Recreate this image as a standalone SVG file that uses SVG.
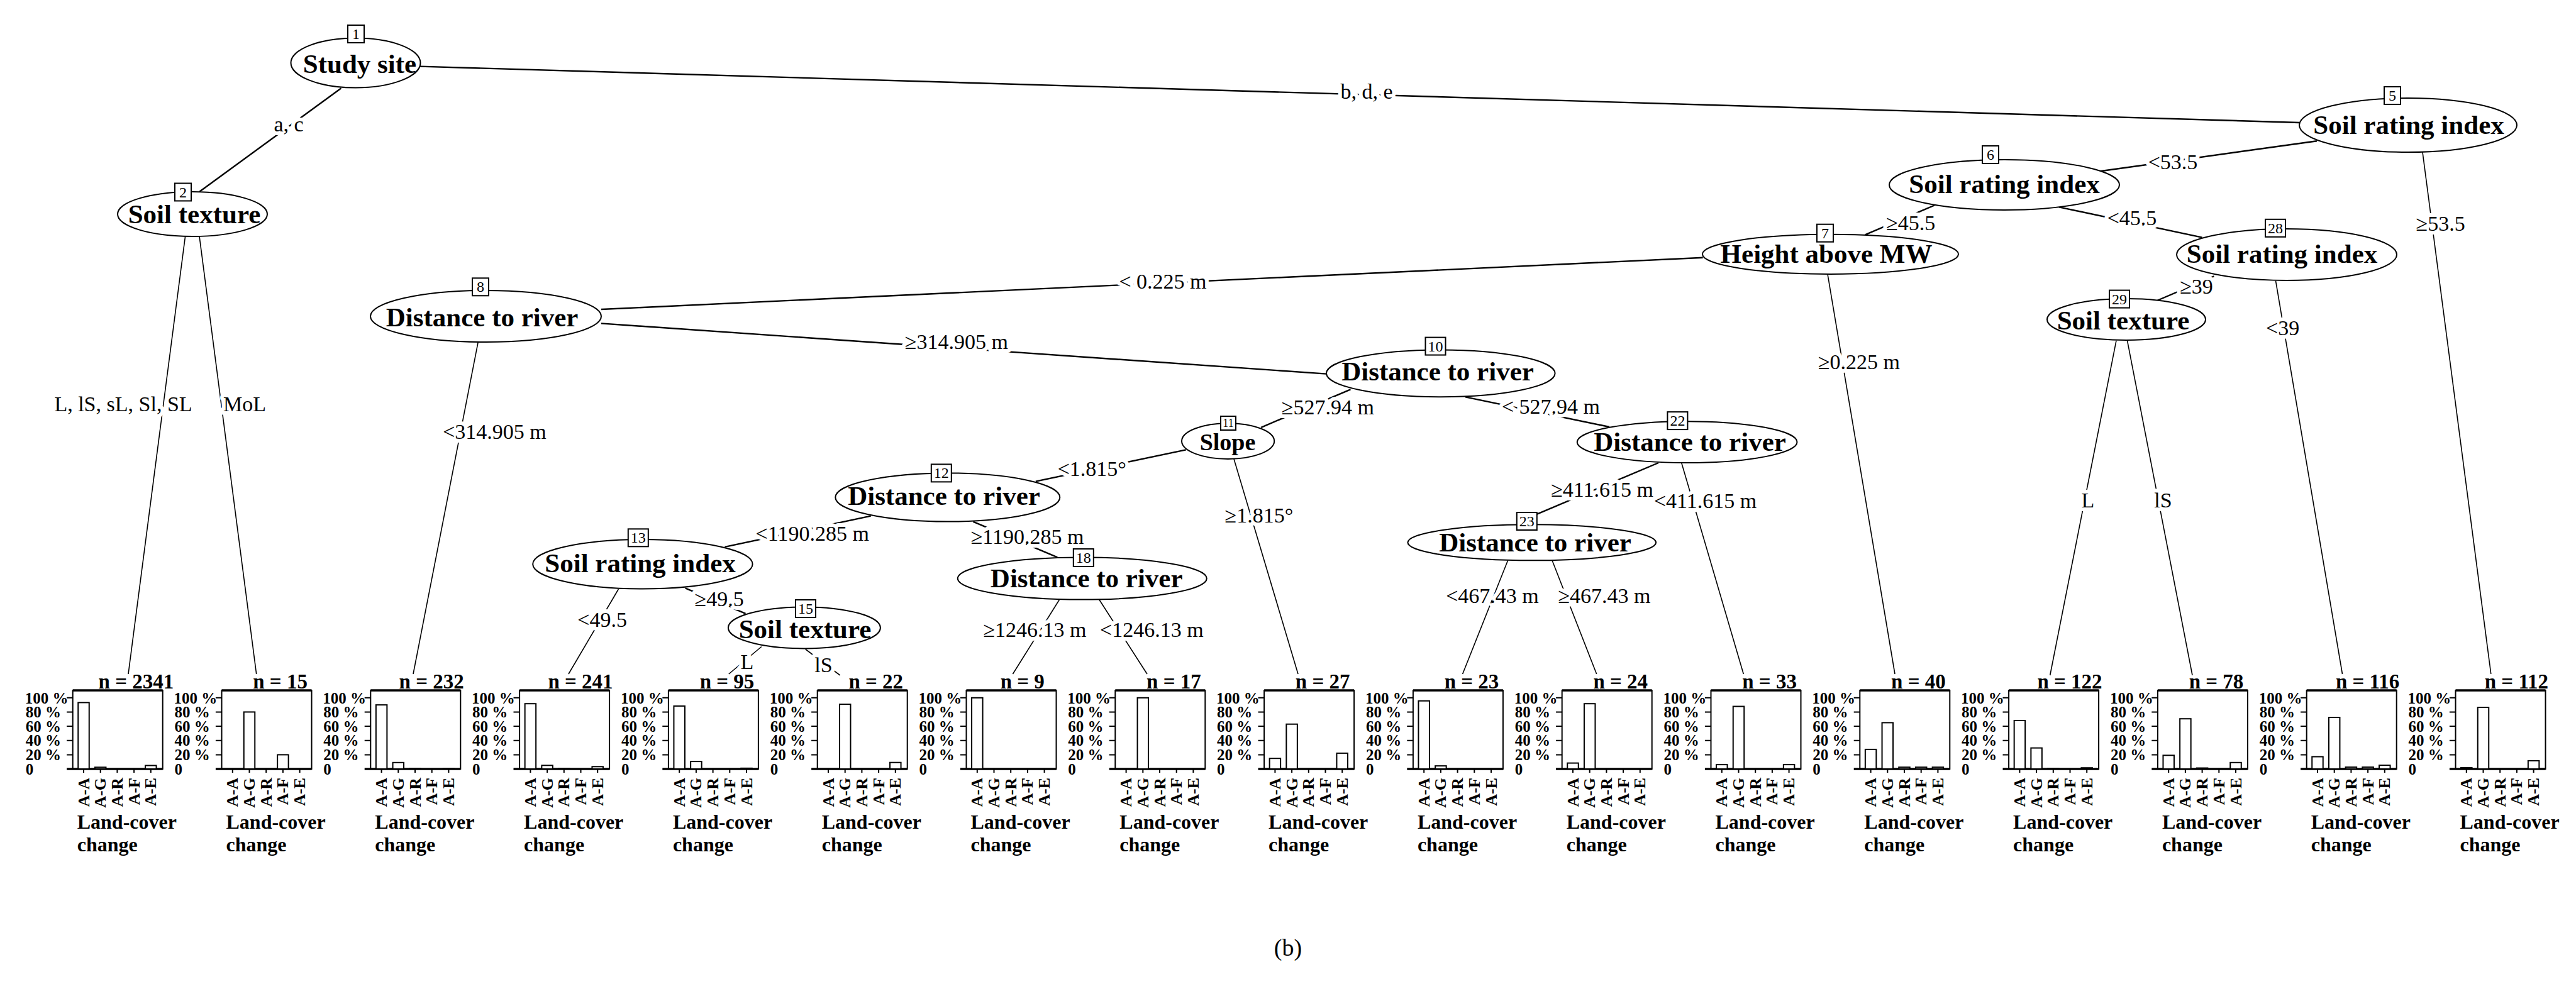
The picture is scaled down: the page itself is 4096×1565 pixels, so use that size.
<svg xmlns="http://www.w3.org/2000/svg" width="4096" height="1565" viewBox="0 0 4096 1565">
<style>
text{font-family:"Liberation Serif","Times New Roman",serif;fill:#000}
.ell{fill:#fff;stroke:#000;stroke-width:2}
.idb{fill:#fff;stroke:#000;stroke-width:2}
.idt{font-size:24px;text-anchor:middle}
.nl{font-size:43px;font-weight:bold;text-anchor:middle}
.e{stroke:#000;fill:none;stroke-width:2.4}
.et{stroke:#000;fill:none;stroke-width:1.6}
.el{font-size:34px;text-anchor:middle;paint-order:stroke;stroke:#fff;stroke-width:12px;stroke-linejoin:round}
.bx{fill:#fff;stroke:#000;stroke-width:2}
.thk{stroke:#000;stroke-width:3.5;fill:none}
.tkl{stroke:#000;stroke-width:2;fill:none}
.tk{font-size:25px;font-weight:bold}
.rl{font-size:26px;font-weight:bold;text-anchor:end}
.lc{font-size:32px;font-weight:bold}
.nn{font-size:33px;font-weight:bold;text-anchor:middle}
.bar{fill:#fff;stroke:#000;stroke-width:2}
</style>
<rect width="4096" height="1565" fill="#fff"/>

<g id="connectors">
<line class="e" x1="542.5" y1="140.3" x2="317" y2="305"/>
<line class="e" x1="668" y1="105.6" x2="3656" y2="195"/>
<line class="et" x1="294.6" y1="375.6" x2="204" y2="1072"/>
<line class="et" x1="317" y1="375.6" x2="407.7" y2="1072"/>
<line class="e" x1="3684" y1="224.2" x2="3339.5" y2="272.3"/>
<line class="et" x1="3852" y1="241.8" x2="3960.8" y2="1072"/>
<line class="e" x1="3076" y1="326.5" x2="2965.7" y2="373.4"/>
<line class="e" x1="3274" y1="329.4" x2="3501.5" y2="377.6"/>
<line class="e" x1="2707.7" y1="409.8" x2="956" y2="492"/>
<line class="et" x1="2906" y1="435.9" x2="3013" y2="1072"/>
<line class="et" x1="760.2" y1="544.1" x2="657" y2="1072"/>
<line class="e" x1="956" y1="514.4" x2="2109" y2="594.6"/>
<line class="e" x1="2147.5" y1="619.3" x2="2005.2" y2="679.8"/>
<line class="e" x1="2330" y1="631.3" x2="2559" y2="679"/>
<line class="e" x1="1885.8" y1="715.4" x2="1646.9" y2="765.6"/>
<line class="et" x1="1962" y1="730" x2="2064" y2="1072"/>
<line class="e" x1="1384.6" y1="820.6" x2="1152.4" y2="869.9"/>
<line class="e" x1="1547.3" y1="829.7" x2="1681.3" y2="886.3"/>
<line class="et" x1="983.4" y1="937" x2="904" y2="1072"/>
<line class="e" x1="1089.6" y1="935.3" x2="1185.5" y2="975.8"/>
<line class="et" x1="1210.8" y1="1028.5" x2="1158.8" y2="1072"/>
<line class="et" x1="1280.7" y1="1032.5" x2="1335.7" y2="1074"/>
<line class="et" x1="1684.6" y1="953.5" x2="1610.4" y2="1072"/>
<line class="et" x1="1747.7" y1="953.5" x2="1824" y2="1072"/>
<line class="e" x1="2637.2" y1="736" x2="2439.4" y2="819.6"/>
<line class="et" x1="2673.7" y1="736" x2="2772.3" y2="1072"/>
<line class="et" x1="2397.6" y1="891.3" x2="2325.6" y2="1072"/>
<line class="et" x1="2468" y1="891.3" x2="2538.7" y2="1072"/>
<line class="e" x1="3520.4" y1="439.3" x2="3430" y2="478"/>
<line class="et" x1="3618.5" y1="446.7" x2="3724.5" y2="1072"/>
<line class="et" x1="3365" y1="541.6" x2="3259.7" y2="1074"/>
<line class="et" x1="3382.5" y1="541.6" x2="3486" y2="1074"/>

<text class="el" x="459" y="209">a, c</text>
<text class="el" x="2173" y="157">b, d, e</text>
<text class="el" x="196" y="654">L, lS, sL, Sl, SL</text>
<text class="el" x="389" y="654">MoL</text>
<text class="el" x="3455" y="269">&lt;53.5</text>
<text class="el" x="3880.6" y="367">≥53.5</text>
<text class="el" x="3038.3" y="366">≥45.5</text>
<text class="el" x="3390" y="358">&lt;45.5</text>
<text class="el" x="1849" y="459">&lt; 0.225 m</text>
<text class="el" x="2956" y="586.5">≥0.225 m</text>
<text class="el" x="786.5" y="698">&lt;314.905 m</text>
<text class="el" x="1520.8" y="554.6">≥314.905 m</text>
<text class="el" x="2111.4" y="659">≥527.94 m</text>
<text class="el" x="2466" y="658">&lt; 527.94 m</text>
<text class="el" x="1736.3" y="756.5">&lt;1.815°</text>
<text class="el" x="2001.9" y="830.7">≥1.815°</text>
<text class="el" x="1291.7" y="859.6">&lt;1190.285 m</text>
<text class="el" x="1633.6" y="864.8">≥1190.285 m</text>
<text class="el" x="957.7" y="997.2">&lt;49.5</text>
<text class="el" x="1143.6" y="963.7">≥49.5</text>
<text class="el" x="1187.8" y="1064.3">L</text>
<text class="el" x="1309.4" y="1068.9">lS</text>
<text class="el" x="1645.5" y="1013.4">≥1246.13 m</text>
<text class="el" x="1831.4" y="1013.4">&lt;1246.13 m</text>
<text class="el" x="2547.6" y="790.4">≥411.615 m</text>
<text class="el" x="2711.6" y="807.5">&lt;411.615 m</text>
<text class="el" x="2373" y="958.9">&lt;467.43 m</text>
<text class="el" x="2551" y="958.9">≥467.43 m</text>
<text class="el" x="3492.5" y="467">≥39</text>
<text class="el" x="3629.7" y="533.4">&lt;39</text>
<text class="el" x="3320" y="807">L</text>
<text class="el" x="3439.4" y="807">lS</text>
</g>

<g id="node-1"><ellipse class="ell" cx="565.5" cy="100" rx="103" ry="39.5"/><rect class="idb" x="553" y="40" width="26" height="28"/><text class="idt" x="566" y="62">1</text><text class="nl" x="572" y="116">Study site</text></g>
<g id="node-2"><ellipse class="ell" cx="306" cy="340.5" rx="119" ry="35.5"/><rect class="idb" x="278" y="291.5" width="26" height="28"/><text class="idt" x="291" y="313.5">2</text><text class="nl" x="309" y="355">Soil texture</text></g>
<g id="node-5"><ellipse class="ell" cx="3829" cy="199" rx="173" ry="43"/><rect class="idb" x="3791" y="138" width="26" height="28"/><text class="idt" x="3804" y="160">5</text><text class="nl" x="3830" y="213">Soil rating index</text></g>
<g id="node-6"><ellipse class="ell" cx="3187" cy="294" rx="183" ry="40"/><rect class="idb" x="3152" y="232" width="26" height="28"/><text class="idt" x="3165" y="254">6</text><text class="nl" x="3187" y="307">Soil rating index</text></g>
<g id="node-7"><ellipse class="ell" cx="2910.5" cy="404.3" rx="203.5" ry="31.6"/><rect class="idb" x="2889" y="356.7" width="26" height="28"/><text class="idt" x="2902" y="378.7">7</text><text class="nl" x="2904" y="417.5">Height above MW</text></g>
<g id="node-8"><ellipse class="ell" cx="772.5" cy="503" rx="183.5" ry="41"/><rect class="idb" x="751" y="442.3" width="26" height="28"/><text class="idt" x="764" y="464.3">8</text><text class="nl" x="766.6" y="518.7">Distance to river</text></g>
<g id="node-10"><ellipse class="ell" cx="2290.8" cy="593.8" rx="181.8" ry="37.4"/><rect class="idb" x="2266.5" y="536.6" width="32" height="28"/><text class="idt" x="2282.5" y="558.6">10</text><text class="nl" x="2286" y="605.4">Distance to river</text></g>
<g id="node-11"><ellipse class="ell" cx="1952.6" cy="701.6" rx="73.6" ry="28.4"/><rect class="idb" x="1941" y="662" width="24" height="22"/><text class="idt" x="1953" y="679" style="font-size:18px">11</text><text class="nl" x="1952" y="716" style="font-size:38px">Slope</text></g>
<g id="node-12"><ellipse class="ell" cx="1506.8" cy="791" rx="178.5" ry="38.6"/><rect class="idb" x="1480.8" y="738.4" width="32" height="28"/><text class="idt" x="1496.8" y="760.4">12</text><text class="nl" x="1501" y="802.6">Distance to river</text></g>
<g id="node-13"><ellipse class="ell" cx="1021.9" cy="897.2" rx="174.7" ry="39.3"/><rect class="idb" x="998.8" y="841.3" width="32" height="28"/><text class="idt" x="1014.8" y="863.3">13</text><text class="nl" x="1018" y="909.9">Soil rating index</text></g>
<g id="node-15"><ellipse class="ell" cx="1278.9" cy="998.4" rx="121" ry="33"/><rect class="idb" x="1265" y="954" width="32" height="28"/><text class="idt" x="1281" y="976">15</text><text class="nl" x="1280" y="1015.1">Soil texture</text></g>
<g id="node-18"><ellipse class="ell" cx="1720.8" cy="920" rx="198" ry="33.6"/><rect class="idb" x="1706.8" y="873" width="32" height="28"/><text class="idt" x="1722.8" y="895">18</text><text class="nl" x="1727.7" y="934.3">Distance to river</text></g>
<g id="node-22"><ellipse class="ell" cx="2682.6" cy="703.1" rx="174.9" ry="32.9"/><rect class="idb" x="2651.4" y="655.1" width="32" height="28"/><text class="idt" x="2667.4" y="677.1">22</text><text class="nl" x="2687" y="716.9">Distance to river</text></g>
<g id="node-23"><ellipse class="ell" cx="2435.8" cy="862.8" rx="197.4" ry="28.5"/><rect class="idb" x="2411.8" y="815" width="32" height="28"/><text class="idt" x="2427.8" y="837">23</text><text class="nl" x="2441" y="877">Distance to river</text></g>
<g id="node-28"><ellipse class="ell" cx="3636" cy="405" rx="175" ry="41"/><rect class="idb" x="3602" y="348.8" width="32" height="28"/><text class="idt" x="3618" y="370.8">28</text><text class="nl" x="3628.5" y="418">Soil rating index</text></g>
<g id="node-29"><ellipse class="ell" cx="3381" cy="508" rx="126" ry="33"/><rect class="idb" x="3354" y="461.6" width="32" height="28"/><text class="idt" x="3370" y="483.6">29</text><text class="nl" x="3376" y="523.8">Soil texture</text></g>

<g id="node-3" transform="translate(115.7,0)">
<rect class="bx" x="0" y="1098" width="143" height="125"/><path class="thk" d="M0 1098H143M-9.6 1223H143"/><path class="tkl" d="M-9.6 1200.4H0M-9.6 1177.7H0M-9.6 1155.1H0M-9.6 1132.4H0M-9.6 1109.8H0M17.3 1223V1229M44 1223V1229M70.7 1223V1229M97.4 1223V1229M124.1 1223V1229"/>
<text class="tk" x="-76" y="1118.5">100 %</text><text class="tk" x="-75" y="1141">80 %</text><text class="tk" x="-75" y="1163.6">60 %</text><text class="tk" x="-75" y="1186.2">40 %</text><text class="tk" x="-75" y="1208.9">20 %</text><text class="tk" x="-75" y="1231.5">0</text>
<text class="rl" transform="translate(25.8,1237) rotate(-90)">A-A</text><text class="rl" transform="translate(52.5,1237) rotate(-90)">A-G</text><text class="rl" transform="translate(79.2,1237) rotate(-90)">A-R</text><text class="rl" transform="translate(105.9,1237) rotate(-90)">A-F</text><text class="rl" transform="translate(132.6,1237) rotate(-90)">A-E</text>
<text class="lc" x="7" y="1318">Land-cover</text><text class="lc" x="7" y="1354">change</text>
<text class="nn" x="100.7" y="1095">n = 2341</text>
<rect class="bar" x="8.55" y="1117.4" width="17.5" height="105.6"/><rect class="bar" x="35.25" y="1220.3" width="17.5" height="2.7"/><rect class="bar" x="115.35" y="1217.5" width="17.5" height="5.5"/>
</g>

<g id="node-4" transform="translate(352.5,0)">
<rect class="bx" x="0" y="1098" width="143" height="125"/><path class="thk" d="M0 1098H143M-9.6 1223H143"/><path class="tkl" d="M-9.6 1200.4H0M-9.6 1177.7H0M-9.6 1155.1H0M-9.6 1132.4H0M-9.6 1109.8H0M17.3 1223V1229M44 1223V1229M70.7 1223V1229M97.4 1223V1229M124.1 1223V1229"/>
<text class="tk" x="-76" y="1118.5">100 %</text><text class="tk" x="-75" y="1141">80 %</text><text class="tk" x="-75" y="1163.6">60 %</text><text class="tk" x="-75" y="1186.2">40 %</text><text class="tk" x="-75" y="1208.9">20 %</text><text class="tk" x="-75" y="1231.5">0</text>
<text class="rl" transform="translate(25.8,1237) rotate(-90)">A-A</text><text class="rl" transform="translate(52.5,1237) rotate(-90)">A-G</text><text class="rl" transform="translate(79.2,1237) rotate(-90)">A-R</text><text class="rl" transform="translate(105.9,1237) rotate(-90)">A-F</text><text class="rl" transform="translate(132.6,1237) rotate(-90)">A-E</text>
<text class="lc" x="7" y="1318">Land-cover</text><text class="lc" x="7" y="1354">change</text>
<text class="nn" x="93.1" y="1095">n = 15</text>
<rect class="bar" x="35.25" y="1132.4" width="17.5" height="90.6"/><rect class="bar" x="88.65" y="1200.4" width="17.5" height="22.6"/>
</g>

<g id="node-9" transform="translate(589.3,0)">
<rect class="bx" x="0" y="1098" width="143" height="125"/><path class="thk" d="M0 1098H143M-9.6 1223H143"/><path class="tkl" d="M-9.6 1200.4H0M-9.6 1177.7H0M-9.6 1155.1H0M-9.6 1132.4H0M-9.6 1109.8H0M17.3 1223V1229M44 1223V1229M70.7 1223V1229M97.4 1223V1229M124.1 1223V1229"/>
<text class="tk" x="-76" y="1118.5">100 %</text><text class="tk" x="-75" y="1141">80 %</text><text class="tk" x="-75" y="1163.6">60 %</text><text class="tk" x="-75" y="1186.2">40 %</text><text class="tk" x="-75" y="1208.9">20 %</text><text class="tk" x="-75" y="1231.5">0</text>
<text class="rl" transform="translate(25.8,1237) rotate(-90)">A-A</text><text class="rl" transform="translate(52.5,1237) rotate(-90)">A-G</text><text class="rl" transform="translate(79.2,1237) rotate(-90)">A-R</text><text class="rl" transform="translate(105.9,1237) rotate(-90)">A-F</text><text class="rl" transform="translate(132.6,1237) rotate(-90)">A-E</text>
<text class="lc" x="7" y="1318">Land-cover</text><text class="lc" x="7" y="1354">change</text>
<text class="nn" x="96.9" y="1095">n = 232</text>
<rect class="bar" x="8.55" y="1121.1" width="17.5" height="101.9"/><rect class="bar" x="35.25" y="1212.8" width="17.5" height="10.2"/><rect class="bar" x="61.95" y="1222" width="17.5" height="1"/><rect class="bar" x="115.35" y="1222.5" width="17.5" height="0.5"/>
</g>

<g id="node-14" transform="translate(826.1,0)">
<rect class="bx" x="0" y="1098" width="143" height="125"/><path class="thk" d="M0 1098H143M-9.6 1223H143"/><path class="tkl" d="M-9.6 1200.4H0M-9.6 1177.7H0M-9.6 1155.1H0M-9.6 1132.4H0M-9.6 1109.8H0M17.3 1223V1229M44 1223V1229M70.7 1223V1229M97.4 1223V1229M124.1 1223V1229"/>
<text class="tk" x="-76" y="1118.5">100 %</text><text class="tk" x="-75" y="1141">80 %</text><text class="tk" x="-75" y="1163.6">60 %</text><text class="tk" x="-75" y="1186.2">40 %</text><text class="tk" x="-75" y="1208.9">20 %</text><text class="tk" x="-75" y="1231.5">0</text>
<text class="rl" transform="translate(25.8,1237) rotate(-90)">A-A</text><text class="rl" transform="translate(52.5,1237) rotate(-90)">A-G</text><text class="rl" transform="translate(79.2,1237) rotate(-90)">A-R</text><text class="rl" transform="translate(105.9,1237) rotate(-90)">A-F</text><text class="rl" transform="translate(132.6,1237) rotate(-90)">A-E</text>
<text class="lc" x="7" y="1318">Land-cover</text><text class="lc" x="7" y="1354">change</text>
<text class="nn" x="96.9" y="1095">n = 241</text>
<rect class="bar" x="8.55" y="1119.2" width="17.5" height="103.8"/><rect class="bar" x="35.25" y="1217.3" width="17.5" height="5.7"/><rect class="bar" x="61.95" y="1222.1" width="17.5" height="0.9"/><rect class="bar" x="115.35" y="1219.3" width="17.5" height="3.7"/>
</g>

<g id="node-16" transform="translate(1062.9,0)">
<rect class="bx" x="0" y="1098" width="143" height="125"/><path class="thk" d="M0 1098H143M-9.6 1223H143"/><path class="tkl" d="M-9.6 1200.4H0M-9.6 1177.7H0M-9.6 1155.1H0M-9.6 1132.4H0M-9.6 1109.8H0M17.3 1223V1229M44 1223V1229M70.7 1223V1229M97.4 1223V1229M124.1 1223V1229"/>
<text class="tk" x="-76" y="1118.5">100 %</text><text class="tk" x="-75" y="1141">80 %</text><text class="tk" x="-75" y="1163.6">60 %</text><text class="tk" x="-75" y="1186.2">40 %</text><text class="tk" x="-75" y="1208.9">20 %</text><text class="tk" x="-75" y="1231.5">0</text>
<text class="rl" transform="translate(25.8,1237) rotate(-90)">A-A</text><text class="rl" transform="translate(52.5,1237) rotate(-90)">A-G</text><text class="rl" transform="translate(79.2,1237) rotate(-90)">A-R</text><text class="rl" transform="translate(105.9,1237) rotate(-90)">A-F</text><text class="rl" transform="translate(132.6,1237) rotate(-90)">A-E</text>
<text class="lc" x="7" y="1318">Land-cover</text><text class="lc" x="7" y="1354">change</text>
<text class="nn" x="93.1" y="1095">n = 95</text>
<rect class="bar" x="8.55" y="1122.9" width="17.5" height="100.1"/><rect class="bar" x="35.25" y="1211.1" width="17.5" height="11.9"/><rect class="bar" x="115.35" y="1221.8" width="17.5" height="1.2"/>
</g>

<g id="node-17" transform="translate(1299.7,0)">
<rect class="bx" x="0" y="1098" width="143" height="125"/><path class="thk" d="M0 1098H143M-9.6 1223H143"/><path class="tkl" d="M-9.6 1200.4H0M-9.6 1177.7H0M-9.6 1155.1H0M-9.6 1132.4H0M-9.6 1109.8H0M17.3 1223V1229M44 1223V1229M70.7 1223V1229M97.4 1223V1229M124.1 1223V1229"/>
<text class="tk" x="-76" y="1118.5">100 %</text><text class="tk" x="-75" y="1141">80 %</text><text class="tk" x="-75" y="1163.6">60 %</text><text class="tk" x="-75" y="1186.2">40 %</text><text class="tk" x="-75" y="1208.9">20 %</text><text class="tk" x="-75" y="1231.5">0</text>
<text class="rl" transform="translate(25.8,1237) rotate(-90)">A-A</text><text class="rl" transform="translate(52.5,1237) rotate(-90)">A-G</text><text class="rl" transform="translate(79.2,1237) rotate(-90)">A-R</text><text class="rl" transform="translate(105.9,1237) rotate(-90)">A-F</text><text class="rl" transform="translate(132.6,1237) rotate(-90)">A-E</text>
<text class="lc" x="7" y="1318">Land-cover</text><text class="lc" x="7" y="1354">change</text>
<text class="nn" x="93.1" y="1095">n = 22</text>
<rect class="bar" x="35.25" y="1120.1" width="17.5" height="102.9"/><rect class="bar" x="115.35" y="1212.7" width="17.5" height="10.3"/>
</g>

<g id="node-19" transform="translate(1536.5,0)">
<rect class="bx" x="0" y="1098" width="143" height="125"/><path class="thk" d="M0 1098H143M-9.6 1223H143"/><path class="tkl" d="M-9.6 1200.4H0M-9.6 1177.7H0M-9.6 1155.1H0M-9.6 1132.4H0M-9.6 1109.8H0M17.3 1223V1229M44 1223V1229M70.7 1223V1229M97.4 1223V1229M124.1 1223V1229"/>
<text class="tk" x="-76" y="1118.5">100 %</text><text class="tk" x="-75" y="1141">80 %</text><text class="tk" x="-75" y="1163.6">60 %</text><text class="tk" x="-75" y="1186.2">40 %</text><text class="tk" x="-75" y="1208.9">20 %</text><text class="tk" x="-75" y="1231.5">0</text>
<text class="rl" transform="translate(25.8,1237) rotate(-90)">A-A</text><text class="rl" transform="translate(52.5,1237) rotate(-90)">A-G</text><text class="rl" transform="translate(79.2,1237) rotate(-90)">A-R</text><text class="rl" transform="translate(105.9,1237) rotate(-90)">A-F</text><text class="rl" transform="translate(132.6,1237) rotate(-90)">A-E</text>
<text class="lc" x="7" y="1318">Land-cover</text><text class="lc" x="7" y="1354">change</text>
<text class="nn" x="89.3" y="1095">n = 9</text>
<rect class="bar" x="8.55" y="1109.8" width="17.5" height="113.2"/>
</g>

<g id="node-20" transform="translate(1773.3,0)">
<rect class="bx" x="0" y="1098" width="143" height="125"/><path class="thk" d="M0 1098H143M-9.6 1223H143"/><path class="tkl" d="M-9.6 1200.4H0M-9.6 1177.7H0M-9.6 1155.1H0M-9.6 1132.4H0M-9.6 1109.8H0M17.3 1223V1229M44 1223V1229M70.7 1223V1229M97.4 1223V1229M124.1 1223V1229"/>
<text class="tk" x="-76" y="1118.5">100 %</text><text class="tk" x="-75" y="1141">80 %</text><text class="tk" x="-75" y="1163.6">60 %</text><text class="tk" x="-75" y="1186.2">40 %</text><text class="tk" x="-75" y="1208.9">20 %</text><text class="tk" x="-75" y="1231.5">0</text>
<text class="rl" transform="translate(25.8,1237) rotate(-90)">A-A</text><text class="rl" transform="translate(52.5,1237) rotate(-90)">A-G</text><text class="rl" transform="translate(79.2,1237) rotate(-90)">A-R</text><text class="rl" transform="translate(105.9,1237) rotate(-90)">A-F</text><text class="rl" transform="translate(132.6,1237) rotate(-90)">A-E</text>
<text class="lc" x="7" y="1318">Land-cover</text><text class="lc" x="7" y="1354">change</text>
<text class="nn" x="93.1" y="1095">n = 17</text>
<rect class="bar" x="35.25" y="1109.8" width="17.5" height="113.2"/>
</g>

<g id="node-21" transform="translate(2010.1,0)">
<rect class="bx" x="0" y="1098" width="143" height="125"/><path class="thk" d="M0 1098H143M-9.6 1223H143"/><path class="tkl" d="M-9.6 1200.4H0M-9.6 1177.7H0M-9.6 1155.1H0M-9.6 1132.4H0M-9.6 1109.8H0M17.3 1223V1229M44 1223V1229M70.7 1223V1229M97.4 1223V1229M124.1 1223V1229"/>
<text class="tk" x="-76" y="1118.5">100 %</text><text class="tk" x="-75" y="1141">80 %</text><text class="tk" x="-75" y="1163.6">60 %</text><text class="tk" x="-75" y="1186.2">40 %</text><text class="tk" x="-75" y="1208.9">20 %</text><text class="tk" x="-75" y="1231.5">0</text>
<text class="rl" transform="translate(25.8,1237) rotate(-90)">A-A</text><text class="rl" transform="translate(52.5,1237) rotate(-90)">A-G</text><text class="rl" transform="translate(79.2,1237) rotate(-90)">A-R</text><text class="rl" transform="translate(105.9,1237) rotate(-90)">A-F</text><text class="rl" transform="translate(132.6,1237) rotate(-90)">A-E</text>
<text class="lc" x="7" y="1318">Land-cover</text><text class="lc" x="7" y="1354">change</text>
<text class="nn" x="93.1" y="1095">n = 27</text>
<rect class="bar" x="8.55" y="1206.2" width="17.5" height="16.8"/><rect class="bar" x="35.25" y="1151.7" width="17.5" height="71.3"/><rect class="bar" x="115.35" y="1197.9" width="17.5" height="25.1"/>
</g>

<g id="node-24" transform="translate(2246.9,0)">
<rect class="bx" x="0" y="1098" width="143" height="125"/><path class="thk" d="M0 1098H143M-9.6 1223H143"/><path class="tkl" d="M-9.6 1200.4H0M-9.6 1177.7H0M-9.6 1155.1H0M-9.6 1132.4H0M-9.6 1109.8H0M17.3 1223V1229M44 1223V1229M70.7 1223V1229M97.4 1223V1229M124.1 1223V1229"/>
<text class="tk" x="-76" y="1118.5">100 %</text><text class="tk" x="-75" y="1141">80 %</text><text class="tk" x="-75" y="1163.6">60 %</text><text class="tk" x="-75" y="1186.2">40 %</text><text class="tk" x="-75" y="1208.9">20 %</text><text class="tk" x="-75" y="1231.5">0</text>
<text class="rl" transform="translate(25.8,1237) rotate(-90)">A-A</text><text class="rl" transform="translate(52.5,1237) rotate(-90)">A-G</text><text class="rl" transform="translate(79.2,1237) rotate(-90)">A-R</text><text class="rl" transform="translate(105.9,1237) rotate(-90)">A-F</text><text class="rl" transform="translate(132.6,1237) rotate(-90)">A-E</text>
<text class="lc" x="7" y="1318">Land-cover</text><text class="lc" x="7" y="1354">change</text>
<text class="nn" x="93.1" y="1095">n = 23</text>
<rect class="bar" x="8.55" y="1114.7" width="17.5" height="108.3"/><rect class="bar" x="35.25" y="1218.1" width="17.5" height="4.9"/>
</g>

<g id="node-25" transform="translate(2483.7,0)">
<rect class="bx" x="0" y="1098" width="143" height="125"/><path class="thk" d="M0 1098H143M-9.6 1223H143"/><path class="tkl" d="M-9.6 1200.4H0M-9.6 1177.7H0M-9.6 1155.1H0M-9.6 1132.4H0M-9.6 1109.8H0M17.3 1223V1229M44 1223V1229M70.7 1223V1229M97.4 1223V1229M124.1 1223V1229"/>
<text class="tk" x="-76" y="1118.5">100 %</text><text class="tk" x="-75" y="1141">80 %</text><text class="tk" x="-75" y="1163.6">60 %</text><text class="tk" x="-75" y="1186.2">40 %</text><text class="tk" x="-75" y="1208.9">20 %</text><text class="tk" x="-75" y="1231.5">0</text>
<text class="rl" transform="translate(25.8,1237) rotate(-90)">A-A</text><text class="rl" transform="translate(52.5,1237) rotate(-90)">A-G</text><text class="rl" transform="translate(79.2,1237) rotate(-90)">A-R</text><text class="rl" transform="translate(105.9,1237) rotate(-90)">A-F</text><text class="rl" transform="translate(132.6,1237) rotate(-90)">A-E</text>
<text class="lc" x="7" y="1318">Land-cover</text><text class="lc" x="7" y="1354">change</text>
<text class="nn" x="93.1" y="1095">n = 24</text>
<rect class="bar" x="8.55" y="1213.6" width="17.5" height="9.4"/><rect class="bar" x="35.25" y="1119.2" width="17.5" height="103.8"/>
</g>

<g id="node-26" transform="translate(2720.5,0)">
<rect class="bx" x="0" y="1098" width="143" height="125"/><path class="thk" d="M0 1098H143M-9.6 1223H143"/><path class="tkl" d="M-9.6 1200.4H0M-9.6 1177.7H0M-9.6 1155.1H0M-9.6 1132.4H0M-9.6 1109.8H0M17.3 1223V1229M44 1223V1229M70.7 1223V1229M97.4 1223V1229M124.1 1223V1229"/>
<text class="tk" x="-76" y="1118.5">100 %</text><text class="tk" x="-75" y="1141">80 %</text><text class="tk" x="-75" y="1163.6">60 %</text><text class="tk" x="-75" y="1186.2">40 %</text><text class="tk" x="-75" y="1208.9">20 %</text><text class="tk" x="-75" y="1231.5">0</text>
<text class="rl" transform="translate(25.8,1237) rotate(-90)">A-A</text><text class="rl" transform="translate(52.5,1237) rotate(-90)">A-G</text><text class="rl" transform="translate(79.2,1237) rotate(-90)">A-R</text><text class="rl" transform="translate(105.9,1237) rotate(-90)">A-F</text><text class="rl" transform="translate(132.6,1237) rotate(-90)">A-E</text>
<text class="lc" x="7" y="1318">Land-cover</text><text class="lc" x="7" y="1354">change</text>
<text class="nn" x="93.1" y="1095">n = 33</text>
<rect class="bar" x="8.55" y="1216.1" width="17.5" height="6.9"/><rect class="bar" x="35.25" y="1123.5" width="17.5" height="99.5"/><rect class="bar" x="115.35" y="1216.1" width="17.5" height="6.9"/>
</g>

<g id="node-27" transform="translate(2957.3,0)">
<rect class="bx" x="0" y="1098" width="143" height="125"/><path class="thk" d="M0 1098H143M-9.6 1223H143"/><path class="tkl" d="M-9.6 1200.4H0M-9.6 1177.7H0M-9.6 1155.1H0M-9.6 1132.4H0M-9.6 1109.8H0M17.3 1223V1229M44 1223V1229M70.7 1223V1229M97.4 1223V1229M124.1 1223V1229"/>
<text class="tk" x="-76" y="1118.5">100 %</text><text class="tk" x="-75" y="1141">80 %</text><text class="tk" x="-75" y="1163.6">60 %</text><text class="tk" x="-75" y="1186.2">40 %</text><text class="tk" x="-75" y="1208.9">20 %</text><text class="tk" x="-75" y="1231.5">0</text>
<text class="rl" transform="translate(25.8,1237) rotate(-90)">A-A</text><text class="rl" transform="translate(52.5,1237) rotate(-90)">A-G</text><text class="rl" transform="translate(79.2,1237) rotate(-90)">A-R</text><text class="rl" transform="translate(105.9,1237) rotate(-90)">A-F</text><text class="rl" transform="translate(132.6,1237) rotate(-90)">A-E</text>
<text class="lc" x="7" y="1318">Land-cover</text><text class="lc" x="7" y="1354">change</text>
<text class="nn" x="93.1" y="1095">n = 40</text>
<rect class="bar" x="8.55" y="1191.9" width="17.5" height="31.1"/><rect class="bar" x="35.25" y="1149.4" width="17.5" height="73.6"/><rect class="bar" x="61.95" y="1220.2" width="17.5" height="2.8"/><rect class="bar" x="88.65" y="1220.2" width="17.5" height="2.8"/><rect class="bar" x="115.35" y="1220.2" width="17.5" height="2.8"/>
</g>

<g id="node-30" transform="translate(3194.1,0)">
<rect class="bx" x="0" y="1098" width="143" height="125"/><path class="thk" d="M0 1098H143M-9.6 1223H143"/><path class="tkl" d="M-9.6 1200.4H0M-9.6 1177.7H0M-9.6 1155.1H0M-9.6 1132.4H0M-9.6 1109.8H0M17.3 1223V1229M44 1223V1229M70.7 1223V1229M97.4 1223V1229M124.1 1223V1229"/>
<text class="tk" x="-76" y="1118.5">100 %</text><text class="tk" x="-75" y="1141">80 %</text><text class="tk" x="-75" y="1163.6">60 %</text><text class="tk" x="-75" y="1186.2">40 %</text><text class="tk" x="-75" y="1208.9">20 %</text><text class="tk" x="-75" y="1231.5">0</text>
<text class="rl" transform="translate(25.8,1237) rotate(-90)">A-A</text><text class="rl" transform="translate(52.5,1237) rotate(-90)">A-G</text><text class="rl" transform="translate(79.2,1237) rotate(-90)">A-R</text><text class="rl" transform="translate(105.9,1237) rotate(-90)">A-F</text><text class="rl" transform="translate(132.6,1237) rotate(-90)">A-E</text>
<text class="lc" x="7" y="1318">Land-cover</text><text class="lc" x="7" y="1354">change</text>
<text class="nn" x="96.9" y="1095">n = 122</text>
<rect class="bar" x="8.55" y="1146" width="17.5" height="77"/><rect class="bar" x="35.25" y="1189.6" width="17.5" height="33.4"/><rect class="bar" x="61.95" y="1222.1" width="17.5" height="0.9"/><rect class="bar" x="115.35" y="1221.2" width="17.5" height="1.8"/>
</g>

<g id="node-31" transform="translate(3430.9,0)">
<rect class="bx" x="0" y="1098" width="143" height="125"/><path class="thk" d="M0 1098H143M-9.6 1223H143"/><path class="tkl" d="M-9.6 1200.4H0M-9.6 1177.7H0M-9.6 1155.1H0M-9.6 1132.4H0M-9.6 1109.8H0M17.3 1223V1229M44 1223V1229M70.7 1223V1229M97.4 1223V1229M124.1 1223V1229"/>
<text class="tk" x="-76" y="1118.5">100 %</text><text class="tk" x="-75" y="1141">80 %</text><text class="tk" x="-75" y="1163.6">60 %</text><text class="tk" x="-75" y="1186.2">40 %</text><text class="tk" x="-75" y="1208.9">20 %</text><text class="tk" x="-75" y="1231.5">0</text>
<text class="rl" transform="translate(25.8,1237) rotate(-90)">A-A</text><text class="rl" transform="translate(52.5,1237) rotate(-90)">A-G</text><text class="rl" transform="translate(79.2,1237) rotate(-90)">A-R</text><text class="rl" transform="translate(105.9,1237) rotate(-90)">A-F</text><text class="rl" transform="translate(132.6,1237) rotate(-90)">A-E</text>
<text class="lc" x="7" y="1318">Land-cover</text><text class="lc" x="7" y="1354">change</text>
<text class="nn" x="93.1" y="1095">n = 78</text>
<rect class="bar" x="8.55" y="1201.3" width="17.5" height="21.7"/><rect class="bar" x="35.25" y="1143.2" width="17.5" height="79.8"/><rect class="bar" x="61.95" y="1221.5" width="17.5" height="1.5"/><rect class="bar" x="115.35" y="1212.8" width="17.5" height="10.2"/>
</g>

<g id="node-32" transform="translate(3667.7,0)">
<rect class="bx" x="0" y="1098" width="143" height="125"/><path class="thk" d="M0 1098H143M-9.6 1223H143"/><path class="tkl" d="M-9.6 1200.4H0M-9.6 1177.7H0M-9.6 1155.1H0M-9.6 1132.4H0M-9.6 1109.8H0M17.3 1223V1229M44 1223V1229M70.7 1223V1229M97.4 1223V1229M124.1 1223V1229"/>
<text class="tk" x="-76" y="1118.5">100 %</text><text class="tk" x="-75" y="1141">80 %</text><text class="tk" x="-75" y="1163.6">60 %</text><text class="tk" x="-75" y="1186.2">40 %</text><text class="tk" x="-75" y="1208.9">20 %</text><text class="tk" x="-75" y="1231.5">0</text>
<text class="rl" transform="translate(25.8,1237) rotate(-90)">A-A</text><text class="rl" transform="translate(52.5,1237) rotate(-90)">A-G</text><text class="rl" transform="translate(79.2,1237) rotate(-90)">A-R</text><text class="rl" transform="translate(105.9,1237) rotate(-90)">A-F</text><text class="rl" transform="translate(132.6,1237) rotate(-90)">A-E</text>
<text class="lc" x="7" y="1318">Land-cover</text><text class="lc" x="7" y="1354">change</text>
<text class="nn" x="96.9" y="1095">n = 116</text>
<rect class="bar" x="8.55" y="1203.5" width="17.5" height="19.5"/><rect class="bar" x="35.25" y="1141" width="17.5" height="82"/><rect class="bar" x="61.95" y="1220.1" width="17.5" height="2.9"/><rect class="bar" x="88.65" y="1220.1" width="17.5" height="2.9"/><rect class="bar" x="115.35" y="1217.1" width="17.5" height="5.9"/>
</g>

<g id="node-33" transform="translate(3904.5,0)">
<rect class="bx" x="0" y="1098" width="143" height="125"/><path class="thk" d="M0 1098H143M-9.6 1223H143"/><path class="tkl" d="M-9.6 1200.4H0M-9.6 1177.7H0M-9.6 1155.1H0M-9.6 1132.4H0M-9.6 1109.8H0M17.3 1223V1229M44 1223V1229M70.7 1223V1229M97.4 1223V1229M124.1 1223V1229"/>
<text class="tk" x="-76" y="1118.5">100 %</text><text class="tk" x="-75" y="1141">80 %</text><text class="tk" x="-75" y="1163.6">60 %</text><text class="tk" x="-75" y="1186.2">40 %</text><text class="tk" x="-75" y="1208.9">20 %</text><text class="tk" x="-75" y="1231.5">0</text>
<text class="rl" transform="translate(25.8,1237) rotate(-90)">A-A</text><text class="rl" transform="translate(52.5,1237) rotate(-90)">A-G</text><text class="rl" transform="translate(79.2,1237) rotate(-90)">A-R</text><text class="rl" transform="translate(105.9,1237) rotate(-90)">A-F</text><text class="rl" transform="translate(132.6,1237) rotate(-90)">A-E</text>
<text class="lc" x="7" y="1318">Land-cover</text><text class="lc" x="7" y="1354">change</text>
<text class="nn" x="96.9" y="1095">n = 112</text>
<rect class="bar" x="8.55" y="1221" width="17.5" height="2"/><rect class="bar" x="35.25" y="1125" width="17.5" height="98"/><rect class="bar" x="115.35" y="1209.9" width="17.5" height="13.1"/>
</g>

<text x="2048" y="1520" style="font-size:38px;text-anchor:middle">(b)</text>
</svg>
